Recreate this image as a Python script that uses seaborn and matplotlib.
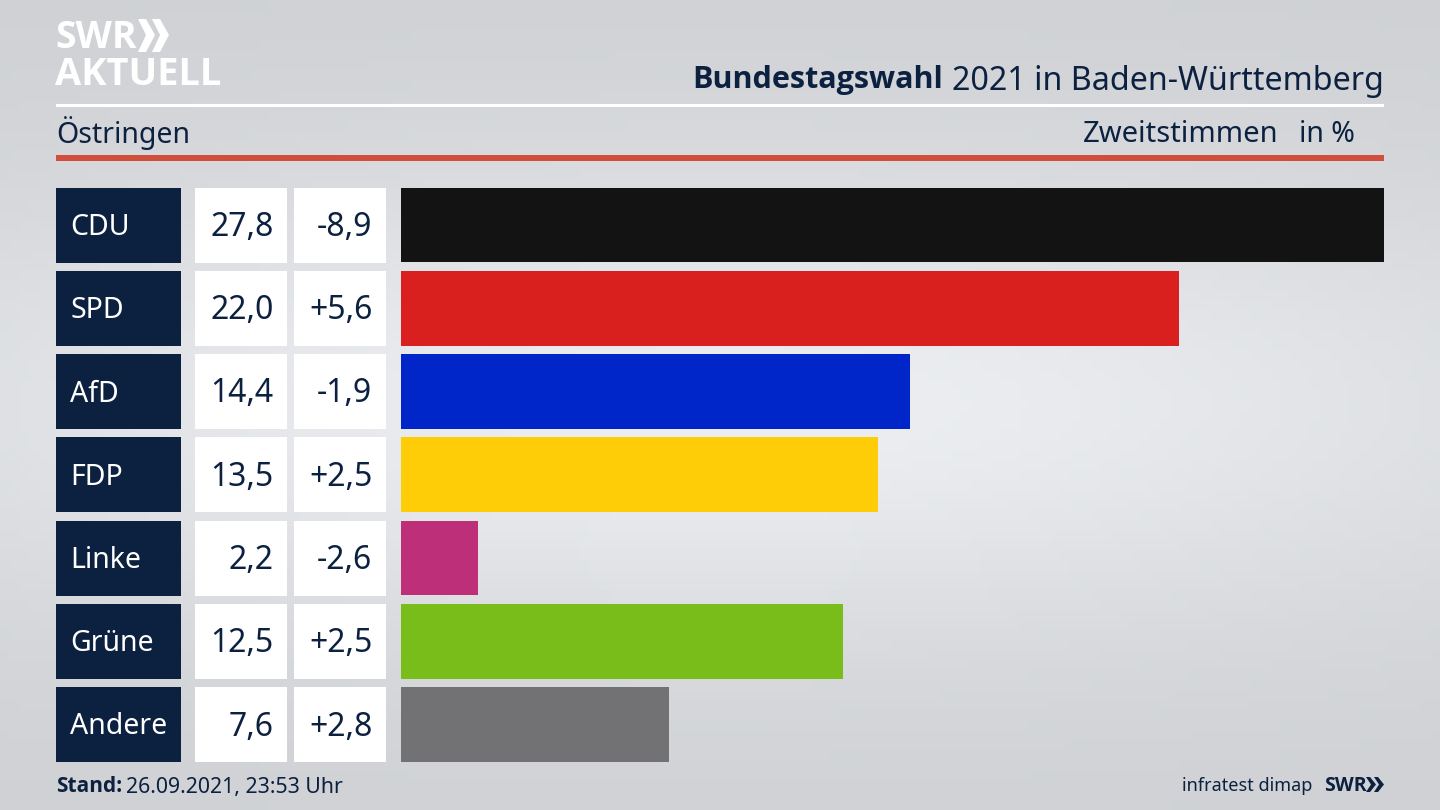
import numpy as np
import pandas as pd
import matplotlib
matplotlib.use("Agg")
import matplotlib.pyplot as plt
from matplotlib.patches import Rectangle, Polygon
import seaborn as sns

parties = ["CDU", "SPD", "AfD", "FDP", "Linke", "Grüne", "Andere"]
shares = [27.8, 22.0, 14.4, 13.5, 2.2, 12.5, 7.6]
changes = [-8.9, 5.6, -1.9, 2.5, -2.6, 2.5, 2.8]
colors = ["#131313", "#da201f", "#0025c8", "#ffcc08", "#bd2f78", "#78bd1a", "#727274"]

NAVY = "#0c2140"
FONT = "Noto Sans"
BOLD = "Open Sans"

sns.set_theme(style="white")
plt.rcParams["font.family"] = [FONT, "DejaVu Sans"]

fig = plt.figure(figsize=(14.4, 8.1), dpi=100)

# hintergrund, alles in pixeln
bg = fig.add_axes([0, 0, 1, 1])
bg.set_xlim(0, 1440)
bg.set_ylim(810, 0)
bg.axis("off")
yy, xx = np.mgrid[0:1:81j, 0:1:144j]
glow = np.exp(-((yy - 0.5) / 0.30) ** 2) * (0.55 + 0.45 * np.sin(np.pi * xx))
shade = 0.81 + 0.115 * glow
tint = np.dstack([shade, shade + 0.008, shade + 0.022])
bg.imshow(np.clip(tint, 0, 1), extent=[0, 1440, 810, 0], aspect="auto", zorder=0)

# kopf
bg.text(55, 38, "SWR", color="white", fontsize=27, fontweight="bold", family=BOLD,
        va="center", ha="left")
for x0 in (138, 152):
    bg.add_patch(Polygon([(x0, 19), (x0 + 8, 19), (x0 + 17, 35), (x0 + 8, 52), (x0, 52), (x0 + 8, 35)],
                         color="white", lw=0))
bg.text(55, 75, "AKTUELL", color="white", fontsize=27.4, fontweight="bold", family=BOLD,
        va="center", ha="left")

bg.add_patch(Rectangle((56, 104), 1328, 3, color="white", lw=0))
bg.add_patch(Rectangle((56, 155), 1328, 5.5, color="#cf4f3c", lw=0))

title = bg.text(1384, 81, "2021 in Baden-Württemberg", color=NAVY, fontsize=23.2, ha="right", va="center")
fig.canvas.draw()
left = title.get_window_extent().x0
bg.text(left - 9, 80, "Bundestagswahl", color=NAVY, fontsize=22, fontweight="bold", family=BOLD,
        ha="right", va="center")

bg.text(56, 133, "Östringen", color=NAVY, fontsize=20.5, ha="left", va="center")
bg.text(1278.5, 134, "Zweitstimmen", color=NAVY, fontsize=21, ha="right", va="center")
bg.text(1355, 134, "in %", color=NAVY, fontsize=20.5, ha="right", va="center")

# tabelle links
for i, party in enumerate(parties):
    top = 187.5 + i * 83.25
    mid = top + 37.5
    bg.add_patch(Rectangle((56, top), 125, 75, color=NAVY, lw=0))
    bg.add_patch(Rectangle((195, top), 92, 75, color="white", lw=0))
    bg.add_patch(Rectangle((294, top), 92, 75, color="white", lw=0))
    bg.text(70, mid + 2.5, party, color="white", fontsize=20.5, ha="left", va="center")
    bg.text(273.5, mid + 2.5, f"{shares[i]:.1f}".replace(".", ","), color=NAVY, fontsize=23, ha="right", va="center")
    bg.text(372.5, mid + 2.5, f"{changes[i]:+.1f}".replace(".", ","), color=NAVY, fontsize=23, ha="right", va="center")

# balken
ax = fig.add_axes([400.5 / 1440, (810 - 762) / 810, 983.5 / 1440, 574.5 / 810])
df = pd.DataFrame({"party": parties, "share": shares})
sns.barplot(data=df, x="share", y="party", hue="party", palette=colors, legend=False,
            width=0.9, saturation=1, linewidth=0, ax=ax)
ax.set_xlim(0, 27.8)
ax.set_ylim(6.45, -0.45)
ax.axis("off")

# fuss
stand = bg.text(56, 787, "Stand:", color=NAVY, fontsize=15, fontweight="bold", family=BOLD, ha="left", va="center")
fig.canvas.draw()
bg.text(stand.get_window_extent().x1 + 4, 787, "26.09.2021, 23:53 Uhr", color=NAVY, fontsize=15.3,
        ha="left", va="center")
bg.text(1312, 786, "infratest dimap", color=NAVY, fontsize=13, ha="right", va="center")
bg.text(1324, 786, "SWR", color=NAVY, fontsize=14, fontweight="bold", family=BOLD, ha="left", va="center")
for x0 in (1366, 1374):
    bg.add_patch(Polygon([(x0, 777), (x0 + 4, 777), (x0 + 10, 784.5), (x0 + 4, 792), (x0, 792), (x0 + 5, 784.5)],
                         color=NAVY, lw=0))

fig.savefig("out.png", dpi=100)
